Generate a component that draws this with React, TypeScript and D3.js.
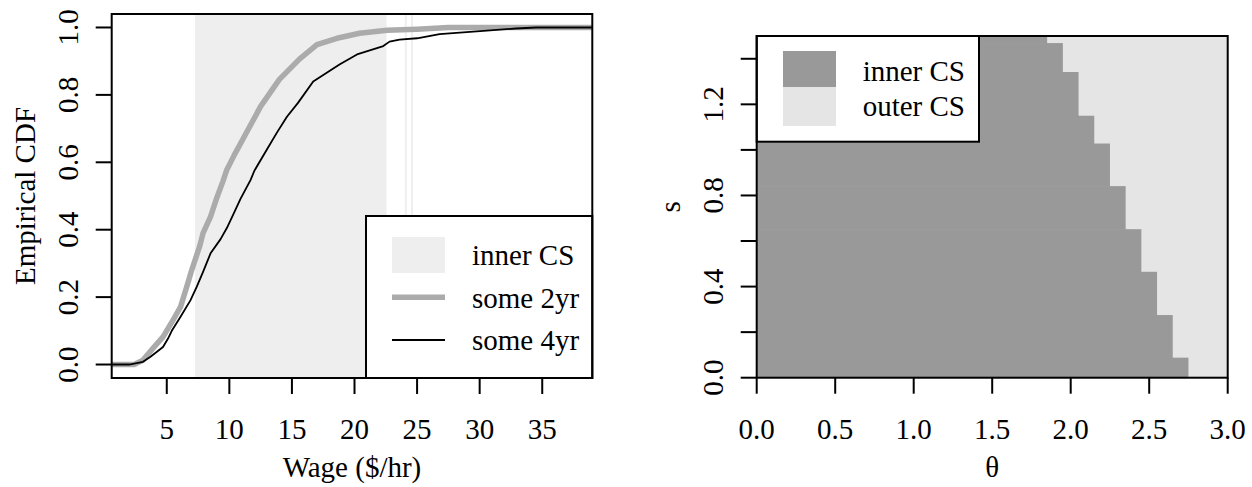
import React from "react";
import * as d3 from "d3";

// ---------- Left panel data ----------
const wageTicks = [5, 10, 15, 20, 25, 30, 35];
const cdfTicks = [0, 0.2, 0.4, 0.6, 0.8, 1.0];
// inner confidence set intervals on wage axis
const innerCSWage: [number, number][] = [
  [7.26, 22.56],
  [24.02, 24.17],
  [24.52, 24.67],
];
// ECDF "some 2yr" (wage, F)
const some2yr: [number, number][] = [
  [2.4, 0], [3.1, 0.013], [3.9, 0.048], [4.7, 0.082], [5.5, 0.132], [6.1, 0.171],
  [6.6, 0.231], [7.0, 0.281], [7.4, 0.325], [7.66, 0.355], [7.9, 0.39], [8.5, 0.439],
  [9.0, 0.495], [9.5, 0.545], [9.8, 0.578], [10.4, 0.622], [11.1, 0.67], [12.5, 0.766],
  [14.0, 0.846], [15.6, 0.906], [17.0, 0.949], [18.6, 0.968], [20.4, 0.983],
  [22.6, 0.992], [25.0, 0.995], [27.5, 1.0],
];
// ECDF "some 4yr"
const some4yr: [number, number][] = [
  [2.0, 0], [3.1, 0.008], [3.7, 0.023], [4.7, 0.052], [5.1, 0.077], [5.4, 0.1],
  [6.1, 0.142], [6.9, 0.191], [7.4, 0.231], [7.9, 0.275], [8.5, 0.33], [9.3, 0.372],
  [9.8, 0.405], [10.4, 0.452], [10.9, 0.492], [11.7, 0.548], [12.0, 0.575], [13.0, 0.638],
  [13.8, 0.688], [14.6, 0.735], [15.5, 0.777], [16.7, 0.84], [18.8, 0.89], [20.2, 0.92],
  [22.3, 0.945], [22.8, 0.958], [23.6, 0.964], [25.0, 0.968], [26.8, 0.98], [30.3, 0.99],
  [32.9, 0.997], [34.5, 1.0],
];
const leftLegend = ["inner CS", "some 2yr", "some 4yr"];

// ---------- Right panel data ----------
const thetaTicks = [0, 0.5, 1.0, 1.5, 2.0, 2.5, 3.0];
const sTicks = [0, 0.2, 0.4, 0.6, 0.8, 1.0, 1.2, 1.4];
const sTickLabels = ["0.0", "", "0.4", "", "0.8", "", "1.2", ""];
const sBreaks = [0, 0.088, 0.275, 0.465, 0.652, 0.841, 1.028, 1.15, 1.342, 1.469, 1.5];
const thetaMax = [2.75, 2.65, 2.55, 2.45, 2.35, 2.25, 2.15, 2.05, 1.95, 1.85];
const rightLegend = ["inner CS", "outer CS"];

const FONT = "'Liberation Serif', 'Times New Roman', Times, serif";
const FS = 29;

export default function App() {
  // Left panel geometry
  const L = { l: 111.7, r: 592.3, t: 14, b: 378 };
  const xL = d3.scaleLinear().domain([0.6, 39]).range([L.l, L.r]);
  const yL = d3.scaleLinear().domain([-0.04, 1.04]).range([L.b, L.t]);
  const line = d3.line<[number, number]>().x((d) => xL(d[0])).y((d) => yL(d[1])).curve(d3.curveLinear);
  const ext = (pts: [number, number][]): [number, number][] => [
    [xL.domain()[0], 0],
    ...pts,
    [xL.domain()[1], 1],
  ];

  // Right panel geometry
  const R = { l: 756.7, r: 1227.7, t: 36, b: 377.7 };
  const xR = d3.scaleLinear().domain([0, 3]).range([R.l, R.r]);
  const yR = d3.scaleLinear().domain([0, 1.5]).range([R.b, R.t]);

  const tick = 16;
  const sw = 2;
  const tickLabelY = 439;
  const titleY = 477;

  return (
    <svg
      width={1252}
      height={487}
      style={{ position: "absolute", left: 0, top: 0, background: "#fff" }}
      fontFamily={FONT}
      fontSize={FS}
    >
      <rect x={0} y={0} width={1252} height={487} fill="#fff" />
      {/* ===== Left panel ===== */}
      {innerCSWage.map(([a, b], i) => (
        <rect key={i} x={xL(a)} y={L.t} width={xL(b) - xL(a)} height={L.b - L.t} fill="#EEEEEE" />
      ))}
      <path d={line(ext(some2yr)) || ""} fill="none" stroke="#ABABAB" strokeWidth={5.5} strokeLinejoin="round" />
      <path d={line(ext(some4yr)) || ""} fill="none" stroke="#000" strokeWidth={1.8} strokeLinejoin="round" />
      {/* legend */}
      <rect x={366} y={216} width={L.r - 366} height={L.b - 216} fill="#fff" stroke="#000" strokeWidth={sw} />
      <rect x={392} y={237} width={53} height={36} fill="#EEEEEE" />
      <line x1={392} x2={445} y1={297.3} y2={297.3} stroke="#ABABAB" strokeWidth={5.5} />
      <line x1={392} x2={445} y1={340} y2={340} stroke="#000" strokeWidth={1.8} />
      {leftLegend.map((t, i) => (
        <text key={t} x={472} y={265 + i * 42.5}>{t}</text>
      ))}
      <rect x={L.l} y={L.t} width={L.r - L.l} height={L.b - L.t} fill="none" stroke="#000" strokeWidth={sw} />
      {wageTicks.map((v) => (
        <g key={v}>
          <line x1={xL(v)} x2={xL(v)} y1={L.b} y2={L.b + tick} stroke="#000" strokeWidth={sw} />
          <text x={xL(v)} y={tickLabelY} textAnchor="middle">{v}</text>
        </g>
      ))}
      {cdfTicks.map((v) => (
        <g key={v}>
          <line x1={L.l - tick} x2={L.l} y1={yL(v)} y2={yL(v)} stroke="#000" strokeWidth={sw} />
          <text transform={`translate(${L.l - 34},${yL(v)}) rotate(-90)`} textAnchor="middle">
            {v.toFixed(1)}
          </text>
        </g>
      ))}
      <text x={(L.l + L.r) / 2} y={titleY} textAnchor="middle">Wage ($/hr)</text>
      <text transform={`translate(${L.l - 77},${(L.t + L.b) / 2}) rotate(-90)`} textAnchor="middle">
        Empirical CDF
      </text>

      {/* ===== Right panel ===== */}
      <rect x={R.l} y={R.t} width={R.r - R.l} height={R.b - R.t} fill="#E5E5E5" />
      {thetaMax.map((m, i) => (
        <rect
          key={i}
          x={xR(0)}
          y={yR(sBreaks[i + 1])}
          width={xR(m) - xR(0)}
          height={yR(sBreaks[i]) - yR(sBreaks[i + 1]) + 0.5}
          fill="#999999"
        />
      ))}
      {/* legend */}
      <rect x={R.l} y={R.t} width={979 - R.l} height={141.7 - R.t} fill="#fff" stroke="#000" strokeWidth={sw} />
      <rect x={783} y={51} width={53} height={36.3} fill="#999999" />
      <rect x={783} y={87.3} width={53} height={38.7} fill="#E5E5E5" />
      {rightLegend.map((t, i) => (
        <text key={t} x={862.7} y={81 + i * 35}>{t}</text>
      ))}
      <rect x={R.l} y={R.t} width={R.r - R.l} height={R.b - R.t} fill="none" stroke="#000" strokeWidth={sw} />
      {thetaTicks.map((v) => (
        <g key={v}>
          <line x1={xR(v)} x2={xR(v)} y1={R.b} y2={R.b + tick} stroke="#000" strokeWidth={sw} />
          <text x={xR(v)} y={tickLabelY} textAnchor="middle">{v.toFixed(1)}</text>
        </g>
      ))}
      {sTicks.map((v, i) => (
        <g key={v}>
          <line x1={R.l - tick} x2={R.l} y1={yR(v)} y2={yR(v)} stroke="#000" strokeWidth={sw} />
          {sTickLabels[i] && (
            <text transform={`translate(${R.l - 34},${yR(v)}) rotate(-90)`} textAnchor="middle">
              {sTickLabels[i]}
            </text>
          )}
        </g>
      ))}
      <text x={(R.l + R.r) / 2} y={titleY} textAnchor="middle">θ</text>
      <text transform={`translate(${R.l - 77},${(R.t + R.b) / 2}) rotate(-90)`} textAnchor="middle">s</text>
    </svg>
  );
}
